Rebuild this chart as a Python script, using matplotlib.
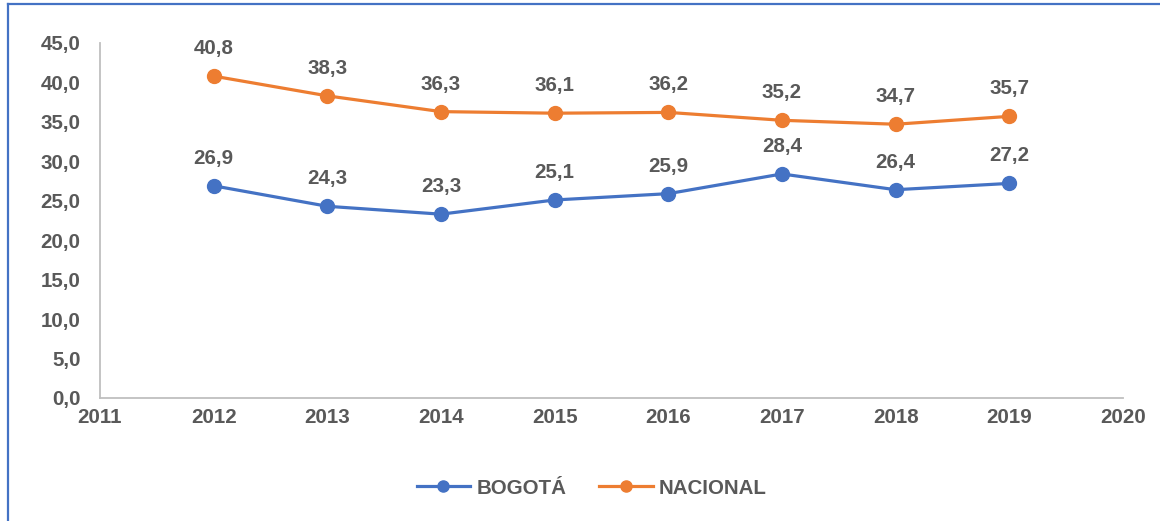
import matplotlib.pyplot as plt
from matplotlib.lines import Line2D

years = [2012, 2013, 2014, 2015, 2016, 2017, 2018, 2019]
bogota = [26.9, 24.3, 23.3, 25.1, 25.9, 28.4, 26.4, 27.2]
nacional = [40.8, 38.3, 36.3, 36.1, 36.2, 35.2, 34.7, 35.7]
series_names = ['BOGOTÁ', 'NACIONAL']
series_colors = ['#4472C4', '#ED7D31']

plt.rcParams['font.family'] = ['Liberation Sans', 'DejaVu Sans']
text_color = '#595959'
fs = 14.8

fig = plt.figure(figsize=(11.6, 5.21), dpi=100)
ax = fig.add_axes([0.0862, 0.2361, 0.968 - 0.0862, 0.9175 - 0.2361])

for name, vals, col in zip(series_names, [bogota, nacional], series_colors):
    ax.plot(years, vals, color=col, lw=2.3, marker='o', markersize=10, label=name)
    for x, y in zip(years, vals):
        ax.annotate(f'{y:.1f}'.replace('.', ','), (x, y), xytext=(0, 13),
                    textcoords='offset points', ha='center', va='bottom',
                    fontsize=fs, fontweight='bold', color=text_color)

ax.set_xlim(2011, 2020)
ax.set_ylim(0, 45)
ax.set_xticks(range(2011, 2021))
ax.set_yticks(range(0, 46, 5))
ax.set_yticklabels([f'{v:.1f}'.replace('.', ',') for v in range(0, 46, 5)])
ax.tick_params(length=0, labelsize=fs, labelcolor=text_color, pad=7)
ax.tick_params(axis='y', pad=14)
for lab in ax.get_xticklabels() + ax.get_yticklabels():
    lab.set_fontweight('bold')
for side in ['top', 'right']:
    ax.spines[side].set_visible(False)
for side in ['left', 'bottom']:
    ax.spines[side].set_color('#BFBFBF')
    ax.spines[side].set_linewidth(1.3)

handles = [Line2D([], [], color=c, lw=2.3, marker='o', markersize=8) for c in series_colors]
fig.legend(handles, series_names, loc='center', bbox_to_anchor=(0.51, 0.063), ncol=2,
           frameon=False, handlelength=2.6, columnspacing=1.6, handletextpad=0.3,
           prop={'size': fs, 'weight': 'bold'}, labelcolor=text_color)

# outer frame (only left and top visible in the crop)
fig.add_artist(Line2D([0.0065, 0.0065], [0.0, 0.992], transform=fig.transFigure, color='#4472C4', lw=1.6))
fig.add_artist(Line2D([0.0065, 1.0], [0.992, 0.992], transform=fig.transFigure, color='#4472C4', lw=1.6))

fig.savefig('out.png', dpi=100)
